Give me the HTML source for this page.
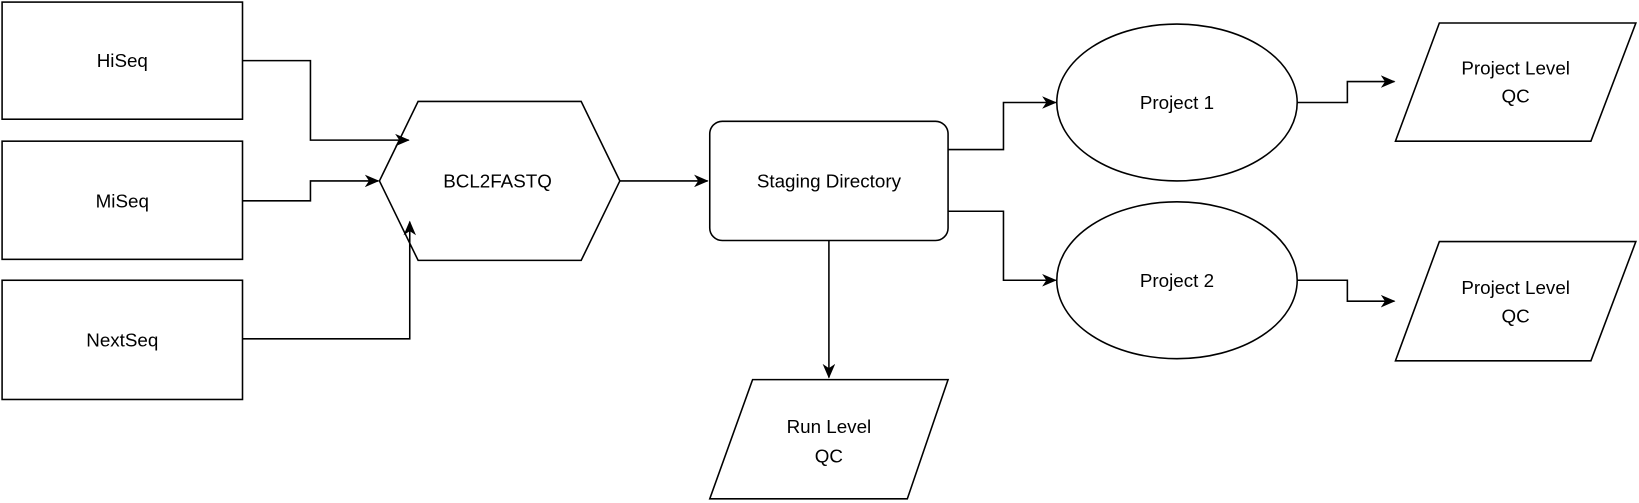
<!DOCTYPE html>
<html><head><meta charset="utf-8"><style>
html,body{margin:0;padding:0;background:#fff;}
svg{display:block;}
text{font-family:"Liberation Sans",Arial,sans-serif;font-size:18px;fill:#000;text-anchor:middle;dominant-baseline:central;}
</style></head><body>
<svg width="1639" height="503" viewBox="0 0 1568 481" preserveAspectRatio="none" xmlns="http://www.w3.org/2000/svg">
<defs><marker id="a" markerWidth="14" markerHeight="12" refX="13" refY="6" orient="auto" markerUnits="userSpaceOnUse"><path d="M0,0 L14,6 L0,12 L4,6 Z" fill="#000"/></marker></defs>
<g fill="#fff" stroke="#000" stroke-width="1.5">
<rect x="2" y="2" width="230" height="112"/>
<rect x="2" y="135" width="230" height="113"/>
<rect x="2" y="268" width="230" height="114"/>
<polygon points="363,173 400,97 556,97 593,173 556,249 400,249"/>
<rect x="679" y="116" width="228" height="114" rx="12"/>
<polygon points="720,363 907,363 868,477 679,477"/>
<ellipse cx="1126" cy="98" rx="115" ry="75"/>
<ellipse cx="1126" cy="268" rx="115" ry="75"/>
<polygon points="1377,22 1565,22 1522,135 1335,135"/>
<polygon points="1377,231 1565,231 1522,345 1335,345"/>
</g>
<g fill="none" stroke="#000" stroke-width="1.5" marker-end="url(#a)">
<polyline points="232,58 297,58 297,134 391,134"/>
<polyline points="232,192 297,192 297,173 362,173"/>
<polyline points="232,324 392,324 392,212"/>
<polyline points="593,173 677,173"/>
<polyline points="793,230 793,361"/>
<polyline points="907,143 960,143 960,98 1010,98"/>
<polyline points="907,202 960,202 960,268 1010,268"/>
<polyline points="1241,98 1289,98 1289,78 1334,78"/>
<polyline points="1241,268 1289,268 1289,288 1334,288"/>
</g>
<text x="117" y="58">HiSeq</text>
<text x="117" y="192">MiSeq</text>
<text x="117" y="325">NextSeq</text>
<text x="476" y="173">BCL2FASTQ</text>
<text x="793" y="173">Staging Directory</text>
<text x="793" y="408">Run Level</text>
<text x="793" y="436">QC</text>
<text x="1126" y="98">Project 1</text>
<text x="1126" y="268">Project 2</text>
<text x="1450" y="65">Project Level</text>
<text x="1450" y="92">QC</text>
<text x="1450" y="275">Project Level</text>
<text x="1450" y="302">QC</text>
</svg>
</body></html>
